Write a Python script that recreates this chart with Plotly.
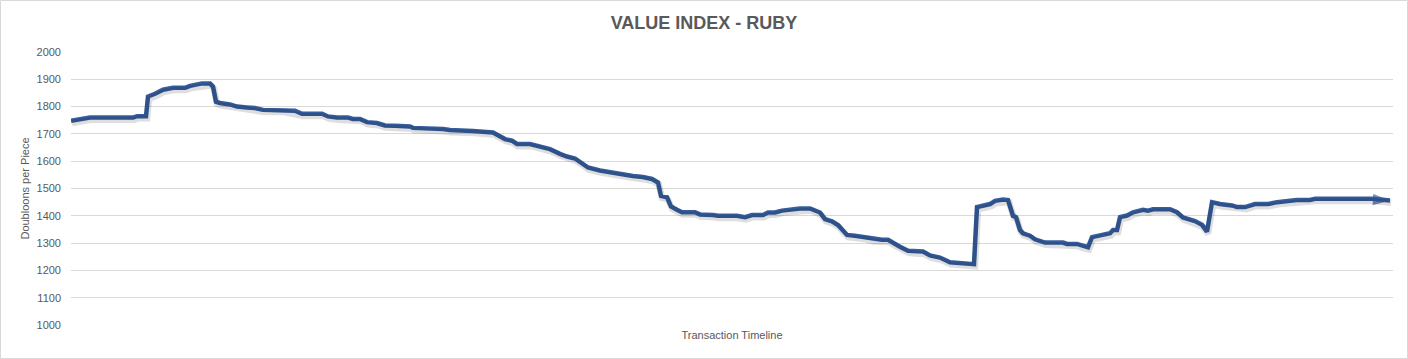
import plotly.graph_objects as go

# Transaction number along the timeline (no tick labels on this axis)
transactions = [0, 9, 19, 62, 66, 75, 77, 84, 92, 102, 114, 119, 126, 131, 139, 142, 145, 149,
                159, 166, 176, 184, 192, 212, 216, 224, 231, 251, 257, 266, 277, 282, 289, 296,
                306, 314, 324, 339, 342, 354, 357, 372, 379, 387, 394, 402, 422, 427, 434, 441,
                446, 459, 469, 479, 489, 496, 504, 511, 517, 529, 539, 552, 562, 572, 581, 587,
                590, 596, 600, 606, 611, 624, 629, 642, 647, 666, 674, 681, 692, 697, 704, 711,
                722, 729, 739, 749, 754, 761, 767, 776, 784, 794, 802, 811, 817, 822, 829, 837,
                846, 852, 859, 869, 879, 892, 897, 903, 906, 912, 919, 924, 932, 937, 942, 945,
                949, 952, 959, 964, 974, 992, 996, 1006, 1011, 1017, 1021, 1026, 1034, 1039, 1042,
                1046, 1049, 1056, 1062, 1072, 1077, 1082, 1099, 1106, 1112, 1119, 1124, 1131, 1136,
                1141, 1149, 1161, 1166, 1174, 1184, 1197, 1206, 1217, 1226, 1239, 1244, 1302, 1309,
                1319]

# Doubloons per piece
values = [1748, 1755, 1760, 1760, 1765, 1765, 1837, 1847, 1862, 1869, 1869, 1876, 1880, 1885,
          1885, 1873, 1818, 1813, 1808, 1800, 1797, 1795, 1788, 1788, 1785, 1785, 1774, 1774,
          1764, 1760, 1760, 1755, 1755, 1743, 1740, 1731, 1730, 1727, 1722, 1722, 1718, 1718,
          1714, 1714, 1711, 1711, 1705, 1693, 1681, 1675, 1663, 1663, 1654, 1644, 1627, 1617,
          1610, 1593, 1577, 1566, 1559, 1554, 1546, 1542, 1535, 1522, 1473, 1468, 1434, 1422,
          1413, 1413, 1405, 1403, 1400, 1400, 1395, 1403, 1403, 1412, 1412, 1419, 1424, 1427,
          1427, 1412, 1388, 1380, 1366, 1330, 1327, 1322, 1314, 1312, 1312, 1300, 1287, 1272,
          1269, 1269, 1255, 1247, 1230, 1227, 1223, 1223, 1432, 1438, 1443, 1455, 1460, 1458,
          1400, 1395, 1348, 1336, 1327, 1314, 1302, 1302, 1297, 1297, 1290, 1285, 1322, 1327,
          1334, 1336, 1348, 1348, 1395, 1401, 1413, 1422, 1419, 1424, 1424, 1413, 1394, 1385,
          1381, 1367, 1342, 1450, 1443, 1438, 1432, 1432, 1443, 1443, 1450, 1454, 1458, 1458,
          1462, 1462, 1458, 1456]

y_ticks = [1000, 1100, 1200, 1300, 1400, 1500, 1600, 1700, 1800, 1900, 2000]

TITLE = "VALUE INDEX - RUBY"
X_TITLE = "Transaction Timeline"
Y_TITLE = "Doubloons per Piece"

LINE_COLOR = "#365E9F"
TEXT_COLOR = "#595959"
GRID_COLOR = "#D9D9D9"
FONT = "Liberation Sans, Arial, sans-serif"

W, H = 1408, 359
ML, MR, MT, MB = 71, 15, 52, 34
PW, PH = W - ML - MR, H - MT - MB
x_range = [0, 1322]
y_range = [1000, 2000]
# shadow offset (a couple of pixels down/right)
dy = 2.2 * (y_range[1] - y_range[0]) / PH
dx = 1.0 * (x_range[1] - x_range[0]) / PW

fig = go.Figure()

# soft shadow under the line
fig.add_trace(go.Scatter(
    x=transactions, y=values, mode="lines",
    line=dict(color="rgba(0,0,0,0.13)", width=6.5),
    xaxis="x2", yaxis="y2", hoverinfo="skip", showlegend=False,
))

# main line
fig.add_trace(go.Scatter(
    x=transactions, y=values, mode="lines",
    line=dict(color=LINE_COLOR, width=4.5),
    showlegend=False,
))

# arrow head at the end of the line
fig.add_trace(go.Scatter(
    x=transactions[-2:], y=values[-2:], mode="markers",
    marker=dict(symbol="arrow", size=[0, 18], color=LINE_COLOR,
                angleref="previous", line=dict(width=0)),
    showlegend=False, hoverinfo="skip", cliponaxis=False,
))

fig.update_layout(
    width=W, height=H,
    margin=dict(l=ML, r=MR, t=MT, b=MB, autoexpand=False),
    paper_bgcolor="white", plot_bgcolor="white",
    font=dict(family=FONT, color=TEXT_COLOR, size=11),
    title=dict(text="<b>" + TITLE + "</b>", x=0.5, xref="container", xanchor="center",
               y=1 - 23 / H, yanchor="middle", automargin=False,
               font=dict(family=FONT, size=18, color=TEXT_COLOR)),
    xaxis=dict(range=x_range, showgrid=False, zeroline=False, showticklabels=False,
               showline=False, ticks="", automargin=False,
               title=dict(text=X_TITLE, standoff=6, font=dict(size=11, color=TEXT_COLOR))),
    yaxis=dict(range=y_range, tickvals=y_ticks, showgrid=True, gridcolor=GRID_COLOR,
               gridwidth=1, zeroline=False, showline=False, ticks="", automargin=False,
               ticklabelstandoff=9,
               tickfont=dict(size=11, color=TEXT_COLOR),
               title=dict(text=Y_TITLE, standoff=4, font=dict(size=11, color=TEXT_COLOR))),
    xaxis2=dict(range=[x_range[0] - dx, x_range[1] - dx], overlaying="x", visible=False),
    yaxis2=dict(range=[y_range[0] + dy, y_range[1] + dy], overlaying="y", visible=False),
    shapes=[dict(type="rect", xref="paper", yref="paper",
                 x0=(0.5 - ML) / PW, x1=(W - 0.5 - ML) / PW,
                 y0=-(MB - 0.5) / PH, y1=(PH + MT - 0.5) / PH,
                 line=dict(color="#D9D9D9", width=1), layer="below")],
)

fig.write_html("out.html", config={"displayModeBar": False},
               post_script="document.body.style.margin='0';document.body.style.overflow='hidden';")
